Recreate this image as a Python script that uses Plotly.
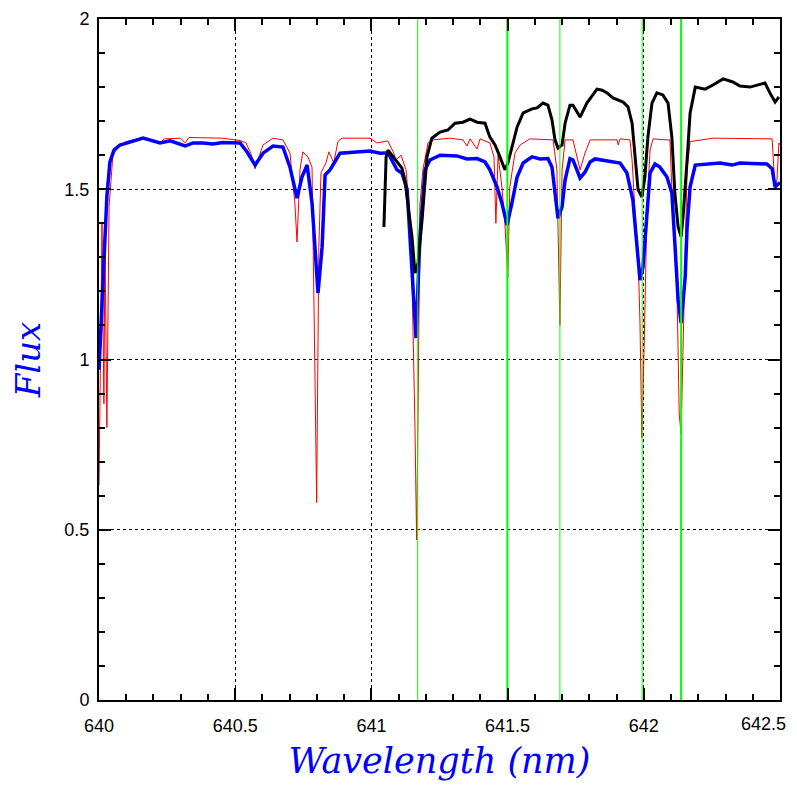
import plotly.graph_objects as go

# ---- data (wavelength in nm, flux) ----
red_wl = [640.000, 640.004, 640.011, 640.018, 640.022, 640.029, 640.037, 640.051, 640.070, 640.100,
          640.162, 640.224, 640.240, 640.300, 640.316, 640.330, 640.382, 640.455, 640.518, 640.540,
          640.560, 640.573, 640.602, 640.639, 640.675, 640.701, 640.719, 640.727, 640.738, 640.748,
          640.767, 640.782, 640.790, 640.799, 640.807, 640.815, 640.833, 640.844, 640.862, 640.877,
          640.892, 640.995, 641.020, 641.060, 641.080, 641.090, 641.109, 641.127, 641.138, 641.150,
          641.160, 641.166, 641.172, 641.178, 641.189, 641.208, 641.226, 641.289, 641.336, 641.351,
          641.362, 641.388, 641.399, 641.435, 641.450, 641.457, 641.465, 641.479, 641.490, 641.501,
          641.508, 641.527, 641.546, 641.582, 641.667, 641.681, 641.692, 641.700, 641.711, 641.740,
          641.766, 641.784, 641.803, 641.902, 641.906, 641.913, 641.949, 641.957, 641.968, 641.979,
          641.986, 641.993, 642.001, 642.012, 642.023, 642.034, 642.085, 642.096, 642.107, 642.122,
          642.130, 642.137, 642.144, 642.152, 642.159, 642.170, 642.254, 642.471, 642.482, 642.489,
          642.496, 642.500]
red_flux = [0.63, 0.86, 1.40, 0.87, 1.35, 0.80, 1.45, 1.60, 1.625, 1.640,
            1.652, 1.636, 1.648, 1.650, 1.636, 1.652, 1.652, 1.650, 1.643, 1.636,
            1.600, 1.560, 1.630, 1.650, 1.645, 1.606, 1.460, 1.345, 1.557, 1.610,
            1.595, 1.565, 1.116, 0.580, 1.330, 1.548, 1.577, 1.610, 1.577, 1.640,
            1.650, 1.650, 1.636, 1.642, 1.610, 1.586, 1.600, 1.557, 1.460, 1.200,
            0.800, 0.470, 0.900, 1.454, 1.557, 1.636, 1.645, 1.650, 1.645, 1.627,
            1.648, 1.618, 1.648, 1.636, 1.595, 1.400, 1.600, 1.507, 1.400, 1.240,
            1.507, 1.606, 1.630, 1.648, 1.645, 1.557, 1.100, 1.557, 1.645, 1.645,
            1.557, 1.606, 1.645, 1.645, 1.630, 1.648, 1.645, 1.586, 1.430, 1.310,
            1.107, 0.770, 1.030, 1.450, 1.615, 1.648, 1.645, 1.645, 1.420, 1.200,
            0.840, 0.780, 1.030, 1.300, 1.560, 1.640, 1.650, 1.648, 1.500, 1.530,
            1.636, 1.630]

blue_wl = [640.000, 640.007, 640.018, 640.029, 640.040, 640.055, 640.077, 640.114, 640.162, 640.224,
           640.261, 640.316, 640.345, 640.382, 640.418, 640.455, 640.518, 640.543, 640.573, 640.602,
           640.639, 640.675, 640.701, 640.727, 640.745, 640.764, 640.782, 640.804, 640.819, 640.830,
           640.848, 640.885, 640.947, 640.995, 641.032, 641.061, 641.094, 641.112, 641.131, 641.149,
           641.164, 641.178, 641.197, 641.215, 641.252, 641.314, 641.351, 641.388, 641.417, 641.435,
           641.461, 641.479, 641.498, 641.516, 641.535, 641.557, 641.590, 641.619, 641.648, 641.663,
           641.674, 641.685, 641.700, 641.711, 641.729, 641.740, 641.766, 641.784, 641.803, 641.821,
           641.913, 641.938, 641.960, 641.975, 641.986, 641.997, 642.012, 642.023, 642.041, 642.059,
           642.085, 642.103, 642.114, 642.126, 642.137, 642.152, 642.159, 642.170, 642.189, 642.232,
           642.280, 642.324, 642.353, 642.452, 642.471, 642.482, 642.500]
blue_flux = [0.97, 1.10, 1.30, 1.48, 1.58, 1.615, 1.630, 1.638, 1.650, 1.636,
             1.642, 1.627, 1.636, 1.636, 1.633, 1.637, 1.636, 1.610, 1.571, 1.606,
             1.627, 1.624, 1.565, 1.474, 1.536, 1.571, 1.460, 1.195, 1.330, 1.542,
             1.557, 1.606, 1.610, 1.612, 1.606, 1.607, 1.557, 1.548, 1.500, 1.263,
             1.063, 1.360, 1.557, 1.586, 1.600, 1.598, 1.589, 1.590, 1.580, 1.557,
             1.507, 1.460, 1.395, 1.460, 1.536, 1.577, 1.595, 1.589, 1.590, 1.565,
             1.489, 1.415, 1.448, 1.527, 1.590, 1.586, 1.533, 1.550, 1.580, 1.589,
             1.577, 1.548, 1.468, 1.342, 1.233, 1.272, 1.439, 1.548, 1.574, 1.565,
             1.536, 1.489, 1.342, 1.175, 1.107, 1.242, 1.389, 1.507, 1.571, 1.574,
             1.577, 1.571, 1.577, 1.574, 1.560, 1.507, 1.520]

black_wl = [641.046, 641.054, 641.061, 641.079, 641.112, 641.123, 641.134, 641.149, 641.160, 641.171,
            641.186, 641.204, 641.222, 641.252, 641.281, 641.307, 641.336, 641.362, 641.388, 641.417,
            641.435, 641.454, 641.472, 641.490, 641.501, 641.516, 641.535, 641.557, 641.590, 641.608,
            641.630, 641.648, 641.663, 641.674, 641.685, 641.700, 641.711, 641.729, 641.740, 641.766,
            641.791, 641.828, 641.847, 641.865, 641.887, 641.924, 641.942, 641.957, 641.968, 641.979,
            641.993, 642.004, 642.015, 642.030, 642.048, 642.070, 642.089, 642.103, 642.114, 642.126,
            642.137, 642.144, 642.159, 642.170, 642.189, 642.225, 642.254, 642.291, 642.327, 642.353,
            642.390, 642.445, 642.463, 642.482, 642.496]
black_flux = [1.389, 1.595, 1.615, 1.595, 1.562, 1.527, 1.460, 1.360, 1.254, 1.283,
              1.410, 1.595, 1.650, 1.668, 1.674, 1.694, 1.697, 1.706, 1.697, 1.694,
              1.653, 1.630, 1.595, 1.557, 1.577, 1.624, 1.683, 1.724, 1.736, 1.739,
              1.753, 1.747, 1.703, 1.645, 1.621, 1.630, 1.694, 1.747, 1.747, 1.712,
              1.753, 1.794, 1.791, 1.783, 1.768, 1.756, 1.742, 1.694, 1.586, 1.498,
              1.477, 1.536, 1.653, 1.753, 1.783, 1.777, 1.753, 1.653, 1.489, 1.389,
              1.360, 1.418, 1.586, 1.724, 1.800, 1.794, 1.806, 1.824, 1.815, 1.803,
              1.800, 1.812, 1.783, 1.756, 1.771]

line_wl = [641.170, 641.499, 641.692, 641.994, 642.137]
line_width = [1, 2, 1, 1, 2]

x_ticks = [640, 640.5, 641, 641.5, 642, 642.5]
x_labels = ["640", "640.5", "641", "641.5", "642", "642.5"]
y_ticks = [0, 0.5, 1, 1.5, 2]
y_labels = ["0", "0.5", "1", "1.5", "2"]

tick_font = dict(family="Liberation Sans, Arial, sans-serif", size=18, color="black")

fig = go.Figure()
fig.add_trace(go.Scatter(x=red_wl, y=red_flux, mode="lines",
                         line=dict(color="#ff0000", width=1), showlegend=False))
fig.add_trace(go.Scatter(x=blue_wl, y=blue_flux, mode="lines",
                         line=dict(color="#0000ff", width=3.5), showlegend=False))
fig.add_trace(go.Scatter(x=black_wl, y=black_flux, mode="lines",
                         line=dict(color="#000000", width=3), showlegend=False))
for wl, w in zip(line_wl, line_width):
    fig.add_trace(go.Scatter(x=[wl, wl], y=[0, 2], mode="lines",
                             line=dict(color="#00ff00", width=w), showlegend=False))

axis_common = dict(
    showline=True, linecolor="black", linewidth=2, mirror="ticks",
    ticks="inside", ticklen=12, tickwidth=1.5, tickcolor="black",
    showgrid=True, gridcolor="black", griddash="3px,3px", gridwidth=1,
    zeroline=False,
    tickfont=tick_font,
    minor=dict(ticks="inside", ticklen=6, tickwidth=1.5, tickcolor="black", dtick=0.1, showgrid=False),
)

# the last x label sits at the right edge of the window; draw it right-aligned so it is not clipped
x_ticktext = x_labels[:-1] + [""]

# page body has an 8px margin, so the figure is sized to fit the 797px window
fig.update_layout(
    width=781, height=781,
    margin=dict(l=91, r=9, t=11, b=89),
    paper_bgcolor="white", plot_bgcolor="white",
    xaxis=dict(range=[640, 642.5], tickvals=x_ticks, ticktext=x_ticktext,
               ticklabelstandoff=8,
               title=dict(text="<i>Wavelength (nm)</i>", standoff=14,
                          font=dict(family="DejaVu Serif", size=35, color="#0000ff")),
               **axis_common),
    yaxis=dict(range=[0, 2], tickvals=y_ticks, ticktext=y_labels,
               ticklabelstandoff=4,
               title=dict(text="<i>Flux</i>", standoff=16,
                          font=dict(family="DejaVu Serif", size=34, color="#0000ff")),
               **axis_common),
    annotations=[dict(x=x_ticks[-1], xref="x", y=0, yref="paper",
                      text=x_labels[-1], showarrow=False, font=tick_font,
                      xanchor="right", yanchor="top", xshift=8, yshift=-12)],
)
fig.update_xaxes(automargin=False)
fig.update_yaxes(automargin=False)

fig.write_html("out.html")
